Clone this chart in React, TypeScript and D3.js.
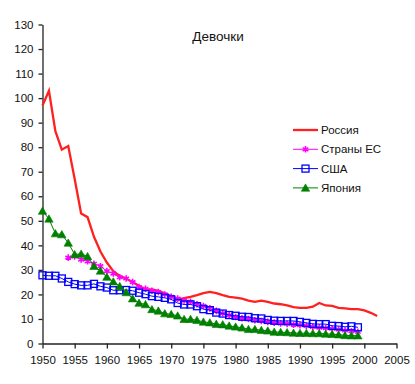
import * as d3 from 'd3';
import { useEffect, useRef } from 'react';

const russiaYears = d3.range(1950, 2003);
const russia = [
  97, 103, 86.5, 79, 80.5, 67, 53, 51.5, 43.5, 37.5,
  33, 29.5, 27.5, 26.5, 25, 23.5, 22, 22, 21.5, 20.5,
  19.3, 18, 18.5, 19, 19.7, 20.5, 21, 20.5, 19.7, 19,
  18.7, 18.3, 17.5, 17, 17.5, 17, 16.3, 16, 15.5, 14.8,
  14.5, 14.5, 15, 16.5, 15.5, 15.3, 14.5, 14.3, 14, 14,
  13.5, 12.5, 11.2,
];

const euYears = d3.range(1954, 2000);
const eu = [
  35, 35.5, 34.2, 33.5, 32.5, 31.5,
  29.5, 28.5, 27, 26.5, 25, 23, 22.3, 21.5, 21, 20,
  19, 18.3, 17.5, 17, 16, 15.3, 14.3, 13.3, 12.3, 11.5,
  10.8, 10.3, 10, 9.5, 9.2, 8.8, 8.5, 8.2, 8, 7.7,
  7.5, 7.2, 6.8, 6.5, 6.3, 6, 5.7, 5.3, 5, 4.8,
];

const usaYears = d3.range(1950, 2000);
const usa = [
  27.8, 27.6, 27.6, 26.5, 25.1, 24.2, 23.7, 23.7, 24.3, 23.3,
  22.8, 21.7, 21.7, 21.8, 21.5, 20.7, 20.1, 19.3, 19, 18.6,
  18, 16.5, 15.9, 15.9, 15.2, 14, 13.6, 12.6, 12.2, 11.6,
  11.3, 10.9, 10.8, 10.3, 10.2, 9.6, 9.3, 9.2, 9.2, 9.2,
  8.8, 8.4, 8, 7.9, 7.9, 7.2, 7.1, 6.8, 7, 6.6,
];

const japanYears = d3.range(1950, 2000);
const japan = [
  54, 50.8, 44.8, 44.4, 41, 36.3, 36.5, 35.5, 31.5, 29.6,
  27.1, 25.2, 23.3, 20.8, 18.3, 16.5, 15.9, 13.9, 13.3, 12.2,
  11.9, 11.3, 9.9, 9.9, 9.5, 8.8, 8.5, 7.9, 7.7, 7.2,
  6.8, 6.4, 5.8, 5.8, 5.4, 5.2, 4.7, 4.6, 4.5, 4.3,
  4.2, 4.2, 4.1, 4.1, 3.9, 3.8, 3.6, 3.3, 3.2, 3.2,
];

const seriesNames = ['Россия', 'Страны ЕС', 'США', 'Япония'];
const seriesColors = ['#ff2020', '#ff00ff', '#0000ff', '#008000'];
const yTicks = d3.range(0, 131, 10);
const xTicks = d3.range(1950, 2006, 5);
const title = 'Девочки';

const App = () => {
  const ref = useRef<null | SVGSVGElement>(null);

  useEffect(() => {
    const svg = d3.select(ref.current);
    svg.selectAll('*').remove();

    const x = d3.scaleLinear().domain([1950, 2005]).range([42.5, 396.5]);
    const y = d3.scaleLinear().domain([0, 130]).range([343.5, 24.5]);
    const font = '"Liberation Sans", Arial, sans-serif';

    // axes
    const yAxis = svg
      .append('g')
      .attr('transform', 'translate(42.5,0)')
      .call(
        d3.axisLeft(y).tickValues(yTicks).tickSize(4).tickSizeOuter(0).tickPadding(5)
      );
    const xAxis = svg
      .append('g')
      .attr('transform', 'translate(0,343.5)')
      .call(
        d3
          .axisBottom(x)
          .tickValues(xTicks)
          .tickFormat(d3.format('d'))
          .tickSize(5)
          .tickSizeOuter(0)
          .tickPadding(7)
      );
    [yAxis, xAxis].forEach((g) => {
      g.selectAll('path, line').attr('stroke', '#222').attr('stroke-width', 1.3);
      g.selectAll('text')
        .attr('fill', '#111')
        .style('font-family', font)
        .style('font-size', '11.5px');
    });

    // title
    svg
      .append('text')
      .attr('x', 218)
      .attr('y', 41)
      .attr('text-anchor', 'middle')
      .style('font-family', font)
      .style('font-size', '13.5px')
      .attr('fill', '#111')
      .text(title);

    const line = d3
      .line<[number, number]>()
      .x((d) => x(d[0]))
      .y((d) => y(d[1]));

    const zip = (years: number[], vals: number[]) =>
      years.map((yr, i) => [yr, vals[i]] as [number, number]);

    const star = d3.symbol().type(d3.symbolAsterisk).size(30)();
    const tri = 'M0,-4L4.2,3.3L-4.2,3.3Z';

    const drawMarker = (g: any, kind: number, cx: number, cy: number) => {
      if (kind === 1) {
        g.append('path')
          .attr('d', star)
          .attr('transform', `translate(${cx},${cy})`)
          .attr('stroke', seriesColors[1])
          .attr('stroke-width', 1.6)
          .attr('fill', 'none');
      } else if (kind === 2) {
        g.append('rect')
          .attr('x', cx - 3.5)
          .attr('y', cy - 3.5)
          .attr('width', 7)
          .attr('height', 7)
          .attr('fill', 'none')
          .attr('stroke', seriesColors[2])
          .attr('stroke-width', 1.3);
      } else if (kind === 3) {
        g.append('path')
          .attr('d', tri)
          .attr('transform', `translate(${cx},${cy})`)
          .attr('fill', seriesColors[3])
          .attr('stroke', seriesColors[3])
          .attr('stroke-width', 0.6);
      }
    };

    const all = [
      zip(russiaYears, russia),
      zip(euYears, eu),
      zip(usaYears, usa),
      zip(japanYears, japan),
    ];

    all.forEach((data, k) => {
      const g = svg.append('g');
      g.append('path')
        .datum(data)
        .attr('d', line)
        .attr('fill', 'none')
        .attr('stroke', seriesColors[k])
        .attr('stroke-width', k === 0 ? 2.3 : 1);
      data.forEach((d) => drawMarker(g, k, x(d[0]), y(d[1])));
    });

    // legend
    const legend = svg.append('g');
    seriesNames.forEach((name, k) => {
      const ry = 130 + k * 19.3;
      legend
        .append('line')
        .attr('x1', 293)
        .attr('x2', 318)
        .attr('y1', ry)
        .attr('y2', ry)
        .attr('stroke', seriesColors[k])
        .attr('stroke-width', k === 0 ? 2.3 : 1);
      drawMarker(legend, k, 305.5, ry);
      legend
        .append('text')
        .attr('x', 321)
        .attr('y', ry + 4)
        .style('font-family', font)
        .style('font-size', '11.5px')
        .attr('fill', '#111')
        .text(name);
    });
  }, []);

  return (
    <svg
      ref={ref}
      width={415}
      height={384}
      style={{ position: 'absolute', left: 0, top: 0, background: '#fff' }}
    />
  );
};

export default App;
